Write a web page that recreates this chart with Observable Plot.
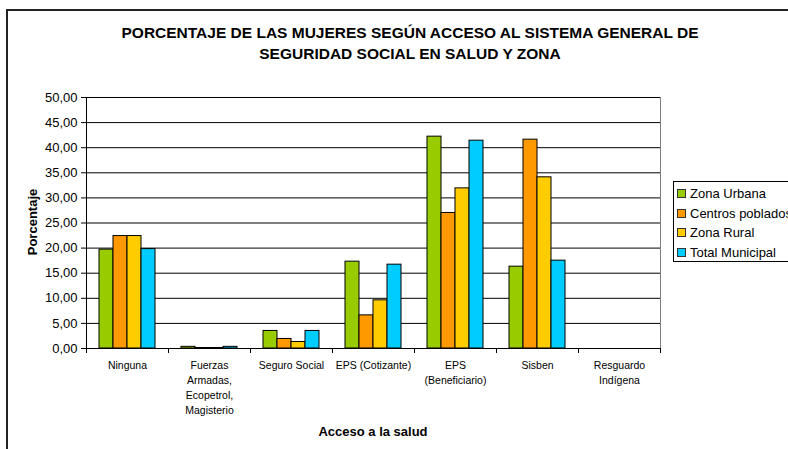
<!DOCTYPE html>
<html><head><meta charset="utf-8">
<script src="https://cdn.jsdelivr.net/npm/d3@7"></script>
<script src="https://cdn.jsdelivr.net/npm/@observablehq/plot@0.6"></script>
<style>
body{margin:0;background:#fff;font-family:"Liberation Sans",Arial,sans-serif;color:#000;}
#wrap{position:relative;width:788px;height:449px;overflow:hidden;background:#fff;}
#box{position:absolute;left:6px;top:9px;width:900px;height:600px;border-left:2px solid #222;border-top:2px solid #222;}
#chart{position:absolute;left:0;top:0;}
#title{position:absolute;left:0;width:820px;top:22px;text-align:center;font-weight:bold;font-size:15.5px;line-height:21px;}
#ylab{position:absolute;left:32px;top:222px;transform:translate(-50%,-50%) rotate(-90deg);font-weight:bold;font-size:13px;white-space:nowrap;}
#xlab{position:absolute;left:373px;top:431px;transform:translate(-50%,-50%);font-weight:bold;font-size:13px;white-space:nowrap;}
#legend{position:absolute;left:673px;top:181px;width:140px;height:79px;border:1px solid #000;background:#fff;font-size:13px;}
.item{position:absolute;left:3px;height:19px;line-height:19px;white-space:nowrap;}
.sw{display:inline-block;width:7px;height:7px;border:1px solid #333;margin-right:4px;vertical-align:middle;position:relative;top:-1px;}
</style>
</head><body>
<div id="wrap">
  <div id="box"></div>
  <div id="chart"></div>
  <div id="title">PORCENTAJE DE LAS MUJERES SEGÚN ACCESO AL SISTEMA GENERAL DE<br>SEGURIDAD SOCIAL EN SALUD Y ZONA</div>
  <div id="ylab">Porcentaje</div>
  <div id="xlab">Acceso a la salud</div>
  <div id="legend"></div>
</div>
<script>
const categories = ["Ninguna", "Fuerzas Armadas, Ecopetrol, Magisterio", "Seguro Social", "EPS (Cotizante)", "EPS (Beneficiario)", "Sisben", "Resguardo Indígena"];
const categoryLabels = ["Ninguna", "Fuerzas\nArmadas,\nEcopetrol,\nMagisterio", "Seguro Social", "EPS (Cotizante)", "EPS\n(Beneficiario)", "Sisben", "Resguardo\nIndígena"];
const series = ["Zona Urbana", "Centros poblados", "Zona Rural", "Total Municipal"];
const zonaUrbana      = [19.7, 0.33, 3.5, 17.3, 42.2, 16.3, 0];
const centrosPoblados = [22.4, 0.10, 1.9,  6.6, 27.0, 41.6, 0];
const zonaRural       = [22.4, 0.10, 1.3,  9.6, 31.9, 34.1, 0];
const totalMunicipal  = [19.8, 0.33, 3.5, 16.7, 41.4, 17.5, 0];
const colors = ["#99CC00", "#FF9900", "#FFCC00", "#00CCFF"];
const yTicks = [0, 5, 10, 15, 20, 25, 30, 35, 40, 45, 50];

const seriesValues = [zonaUrbana, centrosPoblados, zonaRural, totalMunicipal];
const data = [];
categories.forEach((c, i) => series.forEach((s, j) => data.push({cat: c, series: s, value: seriesValues[j][i]})));

const chart = Plot.plot({
  width: 788, height: 449,
  marginLeft: 83, marginRight: 125, marginTop: 97, marginBottom: 101,
  style: {fontFamily: "'Liberation Sans', Arial, sans-serif", fontSize: "11px", color: "#000", background: "transparent"},
  fx: {domain: categories, padding: 0, label: null},
  x: {domain: series, paddingInner: 0, paddingOuter: 0.75, axis: null},
  y: {domain: [0, 50], label: null},
  color: {domain: series, range: colors},
  marks: [
    Plot.gridY(yTicks, {stroke: "#000", strokeOpacity: 1}),
    Plot.barY(data, {fx: "cat", x: "series", y: "value", fill: "series", stroke: "#000", strokeWidth: 1}),
    Plot.ruleY([0], {stroke: "#000"}),
    Plot.frame({anchor: "left", facetAnchor: "left", stroke: "#000"}),
    Plot.frame({anchor: "right", facetAnchor: "right", stroke: "#808080"}),
    Plot.axisY(yTicks, {tickFormat: d => d.toFixed(2).replace(".", ","), tickSize: 5, tickPadding: 4, fontSize: 13, label: null}),
    Plot.axisFx({anchor: "bottom", tickSize: 0, tickPadding: 10, tickFormat: d => categoryLabels[categories.indexOf(d)], fontSize: 10.5, lineHeight: 1.42, label: null})
  ]
});
document.getElementById("chart").appendChild(chart);

// boundary tick marks on the category axis, from the fx and y scales
const fx = chart.scale("fx"), ys = chart.scale("y");
const svg = d3.select(chart.tagName.toLowerCase() === "svg" ? chart : chart.querySelector("svg"));
const bounds = categories.map(c => fx.apply(c)).concat([fx.apply(categories[categories.length - 1]) + fx.bandwidth]);
const y0 = ys.apply(0);
svg.append("g").attr("stroke", "#000").selectAll("line").data(bounds).join("line")
  .attr("x1", d => Math.round(d) + 0.5).attr("x2", d => Math.round(d) + 0.5)
  .attr("y1", y0).attr("y2", y0 + 5);

// legend
const legend = document.getElementById("legend");
series.forEach((s, i) => {
  const it = document.createElement("div");
  it.className = "item";
  it.style.top = (2 + i * 19.5) + "px";
  it.innerHTML = `<span class="sw" style="background:${colors[i]}"></span>${s}`;
  legend.appendChild(it);
});
</script>
</body></html>
